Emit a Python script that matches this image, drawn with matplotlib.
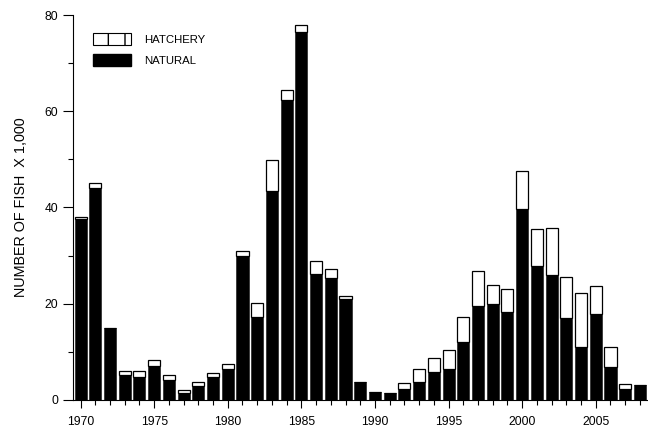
import numpy as np
import matplotlib.pyplot as plt
from matplotlib.ticker import MultipleLocator
from matplotlib.patches import Patch

# Fish counts (thousands)
years = list(range(1970, 2009))
natural = [37.6, 44.0, 15.0, 5.2, 4.8, 7.0, 4.2, 1.4, 2.8, 4.7,
           6.4, 30.0, 17.2, 43.4, 62.4, 76.4, 26.2, 25.4, 21.0, 3.8,
           1.7, 1.4, 2.2, 3.7, 5.8, 6.4, 12.0, 19.5, 19.9, 18.2,
           39.6, 27.9, 26.0, 17.0, 11.0, 17.9, 6.9, 2.2, 3.1]
hatchery = [0.5, 1.0, 0.0, 0.8, 1.2, 1.3, 1.0, 0.7, 0.9, 0.9,
            1.1, 1.0, 3.0, 6.5, 2.0, 1.6, 2.7, 1.8, 0.6, 0.0,
            0.0, 0.0, 1.3, 2.7, 2.9, 4.0, 5.2, 7.3, 4.0, 4.8,
            8.0, 7.6, 9.8, 8.6, 11.2, 5.8, 4.1, 1.1, 0.0]

plt.rcParams['font.family'] = ['Liberation Sans', 'DejaVu Sans']

fig = plt.figure(figsize=(6.48, 4.29), dpi=100)
ax = fig.add_axes([0.113, 0.068, 0.887, 0.897])

ax.bar(years, natural, width=0.82, color='black', edgecolor='#333333', linewidth=0.6)
ax.bar(years, hatchery, width=0.82, bottom=natural, color='white',
       edgecolor='black', linewidth=0.9)

ax.set_xlim(1969.5, 2008.55)
ax.set_ylim(0, 80)
ax.xaxis.set_major_locator(MultipleLocator(5))
ax.xaxis.set_minor_locator(MultipleLocator(1))
ax.yaxis.set_major_locator(MultipleLocator(20))
ax.yaxis.set_minor_locator(MultipleLocator(10))
ax.tick_params(which='both', direction='out', width=0.8, labelsize=8.7)
ax.tick_params(axis='y', which='major', length=7, pad=4)
ax.tick_params(axis='y', which='minor', length=3.5)
ax.tick_params(axis='x', which='major', length=5.5, pad=6)
ax.tick_params(axis='x', which='minor', length=3.5)

for s in ['top', 'right']:
    ax.spines[s].set_visible(False)
for s in ['left', 'bottom']:
    ax.spines[s].set_linewidth(0.8)

ax.set_ylabel('NUMBER OF FISH  X 1,000', fontsize=10.4, labelpad=12)

handles = [Patch(facecolor='white', edgecolor='black', hatch='|', linewidth=0.8),
           Patch(facecolor='black', edgecolor='black')]
ax.legend(handles, ['HATCHERY', 'NATURAL'], loc='upper left',
          bbox_to_anchor=(93 / 648, 1 - 33 / 429), bbox_transform=fig.transFigure,
          borderaxespad=0, borderpad=0, frameon=False, fontsize=8.2,
          handlelength=3.3, handleheight=1.23, handletextpad=1.2, labelspacing=0.8)

plt.savefig('out.png', dpi=100)
